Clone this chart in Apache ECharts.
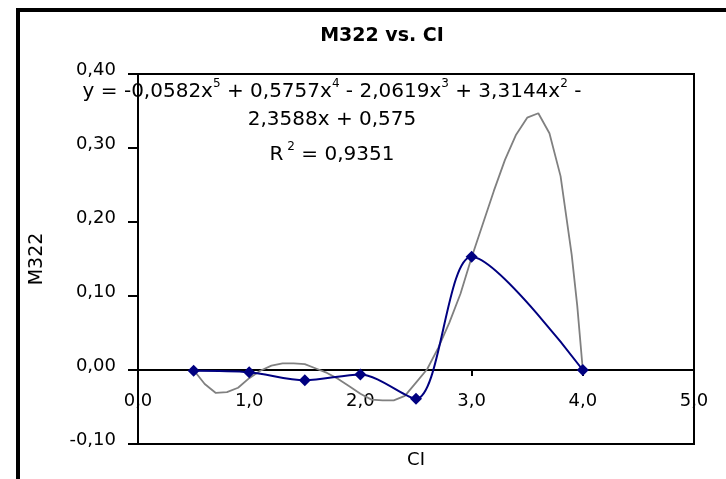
<!DOCTYPE html>
<html>
<head>
<meta charset="utf-8">
<script src="https://cdn.jsdelivr.net/npm/echarts@6/dist/echarts.min.js"></script>
<style>html,body{margin:0;padding:0;background:#fff;}#c{width:726px;height:479px;}</style>
</head>
<body>
<div id="c"></div>
<script>
// Measured data (CI vs M322)
var ciValues = [0.5, 1.0, 1.5, 2.0, 2.5, 3.0, 4.0];
var m322Values = [-0.001, -0.003, -0.014, -0.006, -0.039, 0.153, 0.0];

// Polynomial trendline
var trendX = [0.5, 0.6, 0.7, 0.8, 0.9, 1.0, 1.1, 1.2, 1.3, 1.4, 1.5, 1.6, 1.7, 1.8, 1.9, 2.0, 2.1, 2.2, 2.3, 2.4, 2.5, 2.6, 2.7, 2.8, 2.9, 3.0, 3.1, 3.2, 3.3, 3.4, 3.5, 3.6, 3.7, 3.8, 3.9, 3.95, 4.0];
var trendY = [0.000, -0.019, -0.031, -0.030, -0.024, -0.011, -0.001, 0.006, 0.009, 0.009, 0.008, 0.002, -0.004, -0.012, -0.022, -0.032, -0.040, -0.041, -0.041, -0.035, -0.017, 0.001, 0.030, 0.064, 0.103, 0.152, 0.197, 0.242, 0.284, 0.318, 0.341, 0.347, 0.320, 0.262, 0.156, 0.087, 0.000];

var yTicks = [-0.10, 0.00, 0.10, 0.20, 0.30, 0.40];
var xTicks = [0, 1, 2, 3, 4, 5];

var titleText = 'M322 vs. CI';
var xName = 'CI';
var yName = 'M322';
var eqLine1 = '{n|y = -0,0582x}{s|5}{n| + 0,5757x}{s|4}{n| - 2,0619x}{s|3}{n| + 3,3144x}{s|2}{n| -}';
var eqLine2 = '2,3588x + 0,575';
var eqLine3 = '{n|R}{s| 2}{n| = 0,9351}';

var FONT = 'DejaVu Sans';

function zip(a, b) { return a.map(function (v, i) { return [v, b[i]]; }); }

var chart = echarts.init(document.getElementById('c'), null, { renderer: 'canvas' });
chart.setOption({
  backgroundColor: '#ffffff',
  animation: false,
  title: {
    text: titleText,
    left: 377, top: 22,
    textAlign: 'center',
    textStyle: { fontFamily: FONT, fontWeight: 'bold', fontSize: 19, color: '#000' }
  },
  grid: {
    left: 138, top: 74, right: 32, bottom: 35,
    containLabel: false, outerBoundsMode: 'none',
    show: true, borderColor: '#000', borderWidth: 2, backgroundColor: 'transparent'
  },
  xAxis: {
    type: 'value', min: 0, max: 5, interval: 1,
    position: 'bottom', offset: -74,
    name: xName, nameLocation: 'middle', nameGap: 81,
    nameTextStyle: { fontFamily: FONT, fontSize: 18, color: '#000' },
    axisLine: { show: true, onZero: false, lineStyle: { color: '#000', width: 2 } },
    axisTick: { show: true, length: 6, lineStyle: { color: '#000', width: 2 } },
    axisLabel: {
      margin: 22, fontFamily: FONT, fontSize: 18, color: '#000',
      showMinLabel: true, showMaxLabel: true,
      formatter: function (v) { return v.toFixed(1).replace('.', ','); }
    },
    splitLine: { show: false }
  },
  yAxis: {
    type: 'value', min: -0.1, max: 0.4, interval: 0.1,
    name: yName, nameLocation: 'middle', nameGap: 91, nameRotate: 90,
    nameTextStyle: { fontFamily: FONT, fontSize: 19, color: '#000' },
    axisLine: { show: true, onZero: false, lineStyle: { color: '#000', width: 2 } },
    axisTick: { show: true, length: 10, lineStyle: { color: '#000', width: 2 } },
    axisLabel: {
      margin: 22, fontFamily: FONT, fontSize: 18, color: '#000',
      verticalAlign: 'bottom', lineHeight: 8,
      formatter: function (v) { return v.toFixed(2).replace('.', ','); }
    },
    splitLine: { show: false }
  },
  series: [
    {
      name: 'Poly. (M322)', type: 'line', data: zip(trendX, trendY),
      showSymbol: false, symbol: 'none', smooth: false,
      lineStyle: { color: '#808080', width: 1.8 }, z: 2
    },
    {
      name: 'M322', type: 'line', data: zip(ciValues, m322Values),
      smooth: 0.3, symbol: 'diamond', symbolSize: 12,
      itemStyle: { color: '#000080' },
      lineStyle: { color: '#000080', width: 2 }, z: 3
    }
  ],
  graphic: [
    { type: 'rect', shape: { x: 18, y: 10, width: 900, height: 700 },
      style: { fill: 'none', stroke: '#000', lineWidth: 4 }, silent: true },
    { type: 'text', x: 332, y: 90,
      style: { text: eqLine1, align: 'center', verticalAlign: 'middle',
        rich: { n: { fontFamily: FONT, fontSize: 20, fill: '#000', lineHeight: 24, verticalAlign: 'bottom' },
                s: { fontFamily: FONT, fontSize: 12, fill: '#000', lineHeight: 24, verticalAlign: 'top' } } } },
    { type: 'text', x: 332, y: 120,
      style: { text: eqLine2, align: 'center', verticalAlign: 'middle', fontFamily: FONT, fontSize: 20, fill: '#000' } },
    { type: 'text', x: 332, y: 153,
      style: { text: eqLine3, align: 'center', verticalAlign: 'middle',
        rich: { n: { fontFamily: FONT, fontSize: 20, fill: '#000', lineHeight: 24, verticalAlign: 'bottom' },
                s: { fontFamily: FONT, fontSize: 12, fill: '#000', lineHeight: 24, verticalAlign: 'top' } } } }
  ]
});
</script>
</body>
</html>
